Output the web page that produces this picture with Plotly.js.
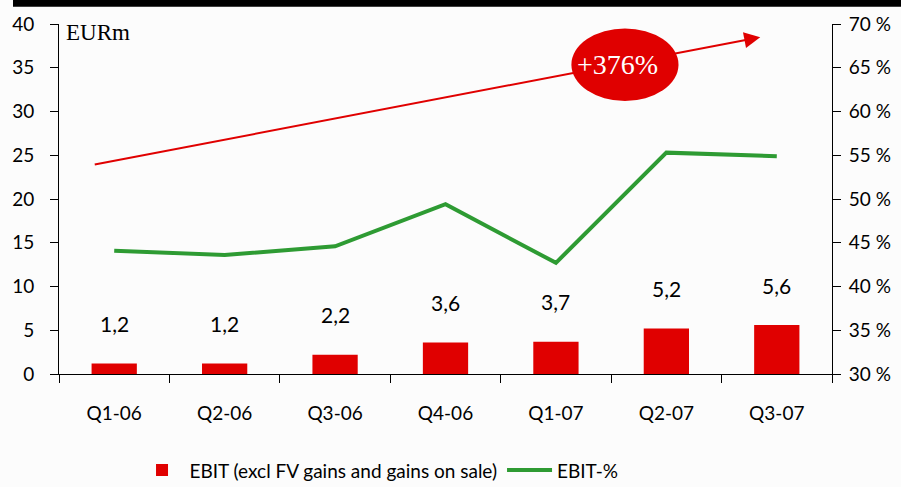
<!DOCTYPE html>
<html>
<head>
<meta charset="utf-8">
<script src="https://cdn.plot.ly/plotly-3.0.1.min.js"></script>
<style>html,body{margin:0;padding:0;background:#fff;}#chart{width:901px;height:487px;}</style>
</head>
<body>
<div id="chart"></div>
<script>
const quarters = ["Q1-06", "Q2-06", "Q3-06", "Q4-06", "Q1-07", "Q2-07", "Q3-07"];
const ebit = [1.2, 1.2, 2.2, 3.6, 3.7, 5.2, 5.6];
const ebitPct = [44.1, 43.6, 44.6, 49.4, 42.7, 55.3, 54.9];
const growthLabel = "+376%";
const unitLabel = "EURm";
const seriesNames = ["EBIT (excl FV gains and gains on sale)", "EBIT-%"];

const RED = "#e00000";
const GREEN = "#2e9b33";
const FONT = "Gill Sans, Lato, 'DejaVu Sans', sans-serif";

const traces = [
  {
    type: "bar", name: seriesNames[0], x: quarters, y: ebit,
    marker: {color: RED}, yaxis: "y", hoverinfo: "x+y"
  },
  {
    type: "scatter", mode: "lines", name: seriesNames[1], x: quarters, y: ebitPct,
    line: {color: GREEN, width: 4}, yaxis: "y2"
  }
];

const annotations = quarters.map((q, i) => ({
  x: q, y: ebit[i], xref: "x", yref: "y", yshift: 40,
  text: ebit[i].toFixed(1).replace(".", ","), showarrow: false,
  yanchor: "middle", font: {family: FONT, size: 21, color: "#000"}
}));

annotations.push({
  xref: "paper", yref: "paper", x: 0.006, y: 0.975, xanchor: "left", yanchor: "middle",
  text: unitLabel, showarrow: false,
  font: {family: "'Liberation Serif', 'Times New Roman', serif", size: 23, color: "#000"}
});
// trend arrow
annotations.push({
  xref: "x", yref: "y", axref: "x", ayref: "y",
  x: 5.85, y: 38.5, ax: -0.19, ay: 23.9,
  text: "", showarrow: true, arrowhead: 2, arrowsize: 1.6, arrowwidth: 2, arrowcolor: RED, standoff: 0
});
annotations.push({
  xref: "x", yref: "y", x: 4.56, y: 35.4, text: growthLabel, showarrow: false,
  font: {family: "'Liberation Serif', 'Times New Roman', serif", size: 28, color: "#fff"}
});

const layout = {
  width: 901, height: 487,
  margin: {l: 59, r: 69, t: 24, b: 113, autoexpand: false},
  paper_bgcolor: "#fcfcfc", plot_bgcolor: "rgba(0,0,0,0)",
  font: {family: FONT, size: 18, color: "#000"},
  bargap: 0.59,
  showlegend: true,
  legend: {
    orientation: "h", x: 0.414, xanchor: "center", y: -0.275, yanchor: "middle",
    font: {family: FONT, size: 19, color: "#000"}, bgcolor: "rgba(0,0,0,0)", itemwidth: 45
  },
  xaxis: {
    type: "category", range: [-0.5, 6.5], showline: true, linecolor: "#000", linewidth: 1,
    ticks: "outside", tickson: "boundaries", ticklen: 8, tickcolor: "#000",
    showgrid: false, zeroline: false, ticklabelstandoff: 22,
    tickfont: {family: FONT, size: 19, color: "#000"}
  },
  yaxis: {
    range: [0, 40], dtick: 5, showline: true, linecolor: "#000", linewidth: 1,
    ticks: "outside", ticklen: 8, tickcolor: "#000", showgrid: false, zeroline: false,
    ticklabelstandoff: 12,
    tickfont: {family: FONT, size: 19, color: "#000"}
  },
  yaxis2: {
    overlaying: "y", side: "right", range: [30, 70], dtick: 5, ticksuffix: " %",
    showline: true, linecolor: "#000", linewidth: 1,
    ticks: "outside", ticklen: 8, tickcolor: "#000", showgrid: false, zeroline: false,
    ticklabelstandoff: 4,
    tickfont: {family: FONT, size: 19, color: "#000"}
  },
  shapes: [
    {type: "rect", xref: "paper", yref: "paper", x0: -0.0595, x1: 1.1, y0: 1.049, y1: 1.075,
     fillcolor: "#000", line: {width: 0}, layer: "above"},
    {type: "circle", xref: "x", yref: "y", x0: 4.14, x1: 5.11, y0: 31.2, y1: 39.5,
     fillcolor: RED, line: {width: 0}, layer: "above"}
  ],
  annotations: annotations
};

Plotly.newPlot("chart", traces, layout, {displayModeBar: false, staticPlot: true});
</script>
</body>
</html>
